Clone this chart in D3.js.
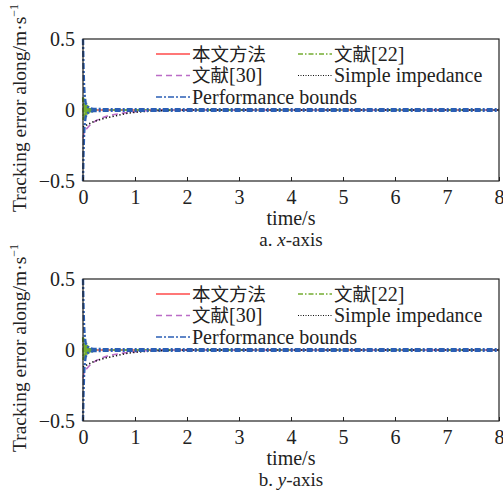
<!DOCTYPE html>
<html lang="en">
<head>
    <meta charset="UTF-8">
    <title>Tracking error</title>
    <style>
        body { margin: 0; background: #fff; }
        svg { display: block; }
        text { font-family: "Liberation Serif", "Times New Roman", serif; fill: #222; }
        .cjk { font-family: "Noto Sans CJK SC", sans-serif; }
    </style>
    <script src="https://d3js.org/d3.v7.min.js"></script>
</head>
<body>
    <svg width="503" height="490"></svg>
    <script>
        // time ticks and y ticks
        const xTicks = [0, 1, 2, 3, 4, 5, 6, 7, 8];
        const yTicks = [-0.5, 0, 0.5];
        const panels = ['a', 'b'];
        const axisNames = ['x', 'y'];

        // series values (time, value)
        const proposedT = [0, 0.02, 0.05, 0.1, 0.2, 0.5, 1, 8];
        const proposedV = [0, 0.01, -0.01, 0.005, 0, 0, 0, 0];

        const ref22T = [0, 0.01, 0.02, 0.03, 0.04, 0.05, 0.06, 0.07, 0.08, 0.09, 0.10, 0.11, 0.12, 0.13, 0.14, 0.15, 0.16, 0.17, 0.18, 0.19, 0.20, 0.22, 0.25, 0.3, 8];
        const ref22V = [0.09, -0.07, 0.08, -0.06, 0.065, -0.05, 0.05, -0.04, 0.038, -0.03, 0.028, -0.022, 0.02, -0.016, 0.014, -0.011, 0.01, -0.007, 0.006, -0.004, 0.003, 0.001, 0, 0, 0];

        const ref30T = [0, 0.02, 0.05, 0.1, 0.15, 0.25, 0.35, 0.45, 0.6, 0.8, 1.0, 1.2, 1.6, 8];
        const ref30V = [-0.2, -0.16, -0.14, -0.12, -0.1, -0.075, -0.058, -0.045, -0.032, -0.02, -0.012, -0.005, 0, 0];

        const simpleT = [0, 0.05, 0.1, 0.2, 0.3, 0.45, 0.55, 0.7, 0.87, 1.0, 1.2, 1.4, 1.6, 2.0, 8];
        const simpleV = [-0.12, -0.11, -0.1, -0.083, -0.07, -0.055, -0.047, -0.035, -0.022, -0.016, -0.01, -0.006, -0.003, 0, 0];

        const boundT = [0, 0.01, 0.02, 0.03, 0.05, 0.08, 0.12, 0.2, 0.4, 1, 8];
        const boundUp = [0.5, 0.3, 0.18, 0.11, 0.05, 0.025, 0.014, 0.008, 0.006, 0.005, 0.005];
        const boundLo = [-0.5, -0.3, -0.18, -0.11, -0.05, -0.025, -0.014, -0.008, -0.006, -0.005, -0.005];

        // legend names: [CJK part, latin part]
        const legendNames = [['本文方法', ''], ['文献', '[22]'], ['文献', '[30]'], ['', 'Simple impedance'], ['', 'Performance bounds']];

        const zip = (ts, vs) => ts.map((t, i) => [t, vs[i]]);

        const series = [
            { name: legendNames[0], pts: [zip(proposedT, proposedV)], color: '#ff4a4a', width: 1.3, dash: null },
            { name: legendNames[1], pts: [zip(ref22T, ref22V)], color: '#74ad32', width: 2.2, dash: '5,2,1.5,2' },
            { name: legendNames[2], pts: [zip(ref30T, ref30V)], color: '#bb6cc6', width: 1.6, dash: '6,4' },
            { name: legendNames[3], pts: [zip(simpleT, simpleV)], color: '#111', width: 1.6, dash: '1.3,2.2' },
            { name: legendNames[4], pts: [zip(boundT, boundUp), zip(boundT, boundLo)], color: '#2b5fb5', width: 2.4, dash: '6,2,2,2' }
        ];

        // legend slots: column x, row index
        const legendSlots = [[156, 0], [298, 0], [156, 1], [298, 1], [156, 2]];

        const svg = d3.select('svg');

        panels.forEach((p, k) => {
            const off = k * 240;
            const x = d3.scaleLinear().domain([0, 8]).range([83, 499]);
            const y = d3.scaleLinear().domain([-0.5, 0.5]).range([181 + off, 39 + off]);

            const g = svg.append('g');

            const line = d3.line().x(d => x(d[0])).y(d => y(d[1]));

            series.forEach(s => {
                s.pts.forEach(pts => {
                    g.append('path')
                        .attr('d', line(pts))
                        .attr('fill', 'none')
                        .attr('stroke', s.color)
                        .attr('stroke-width', s.width)
                        .attr('stroke-dasharray', s.dash);
                });
            });

            // frame
            g.append('rect')
                .attr('x', x(0)).attr('y', y(0.5))
                .attr('width', x(8) - x(0)).attr('height', y(-0.5) - y(0.5))
                .attr('fill', 'none').attr('stroke', '#222').attr('stroke-width', 1.2);

            // x ticks (inward) and labels
            const xa = g.append('g')
                .attr('transform', `translate(0,${y(-0.5)})`)
                .call(d3.axisBottom(x).tickValues(xTicks).tickSize(-4).tickPadding(9).tickFormat(d3.format('d')));
            xa.select('.domain').remove();
            xa.selectAll('line').attr('stroke', '#222');
            xa.selectAll('text').attr('font-size', 20).attr('fill', '#222')
                .style('font-family', '"Liberation Serif", serif');

            const ya = g.append('g')
                .attr('transform', `translate(${x(0)},0)`)
                .call(d3.axisLeft(y).tickValues(yTicks).tickSize(0).tickPadding(8)
                    .tickFormat(d => d === 0 ? '0' : (d < 0 ? '\u22120.5' : '0.5')));
            ya.select('.domain').remove();
            ya.selectAll('text').attr('font-size', 20).attr('fill', '#222')
                .style('font-family', '"Liberation Serif", serif');

            // axis titles
            g.append('text')
                .attr('x', x(4)).attr('y', 225 + off)
                .attr('text-anchor', 'middle').attr('font-size', 20)
                .text('time/s');

            const cap = g.append('text')
                .attr('x', x(4)).attr('y', 246 + off)
                .attr('text-anchor', 'middle').attr('font-size', 19);
            cap.append('tspan').text(p + '. ');
            cap.append('tspan').attr('font-style', 'italic').text(axisNames[k]);
            cap.append('tspan').text('-axis');

            const yl = g.append('text')
                .attr('transform', `translate(26,${y(0) - 2}) rotate(-90)`)
                .attr('text-anchor', 'middle').attr('font-size', 19.5);
            yl.append('tspan').text('Tracking error along/m\u00b7s');
            yl.append('tspan').attr('font-size', 12).attr('dy', -8).text('\u22121');

            // legend
            series.forEach((s, i) => {
                const lx = legendSlots[i][0];
                const ly = y(0.5) + 15 + legendSlots[i][1] * 21.5;
                g.append('line')
                    .attr('x1', lx).attr('x2', lx + 34)
                    .attr('y1', ly).attr('y2', ly)
                    .attr('stroke', s.color)
                    .attr('stroke-width', s.dash === '1.3,2.2' ? 1.2 : 1.5)
                    .attr('stroke-dasharray', s.dash === '1.3,2.2' ? '1,1.5' : s.dash);
                const t = g.append('text')
                    .attr('x', lx + 36).attr('y', ly + 6.5)
                    .attr('font-size', 20);
                if (s.name[0]) t.append('tspan').attr('class', 'cjk').attr('font-size', 18.5).text(s.name[0]);
                if (s.name[1]) t.append('tspan').text(s.name[1]);
            });
        });
    </script>
</body>
</html>
